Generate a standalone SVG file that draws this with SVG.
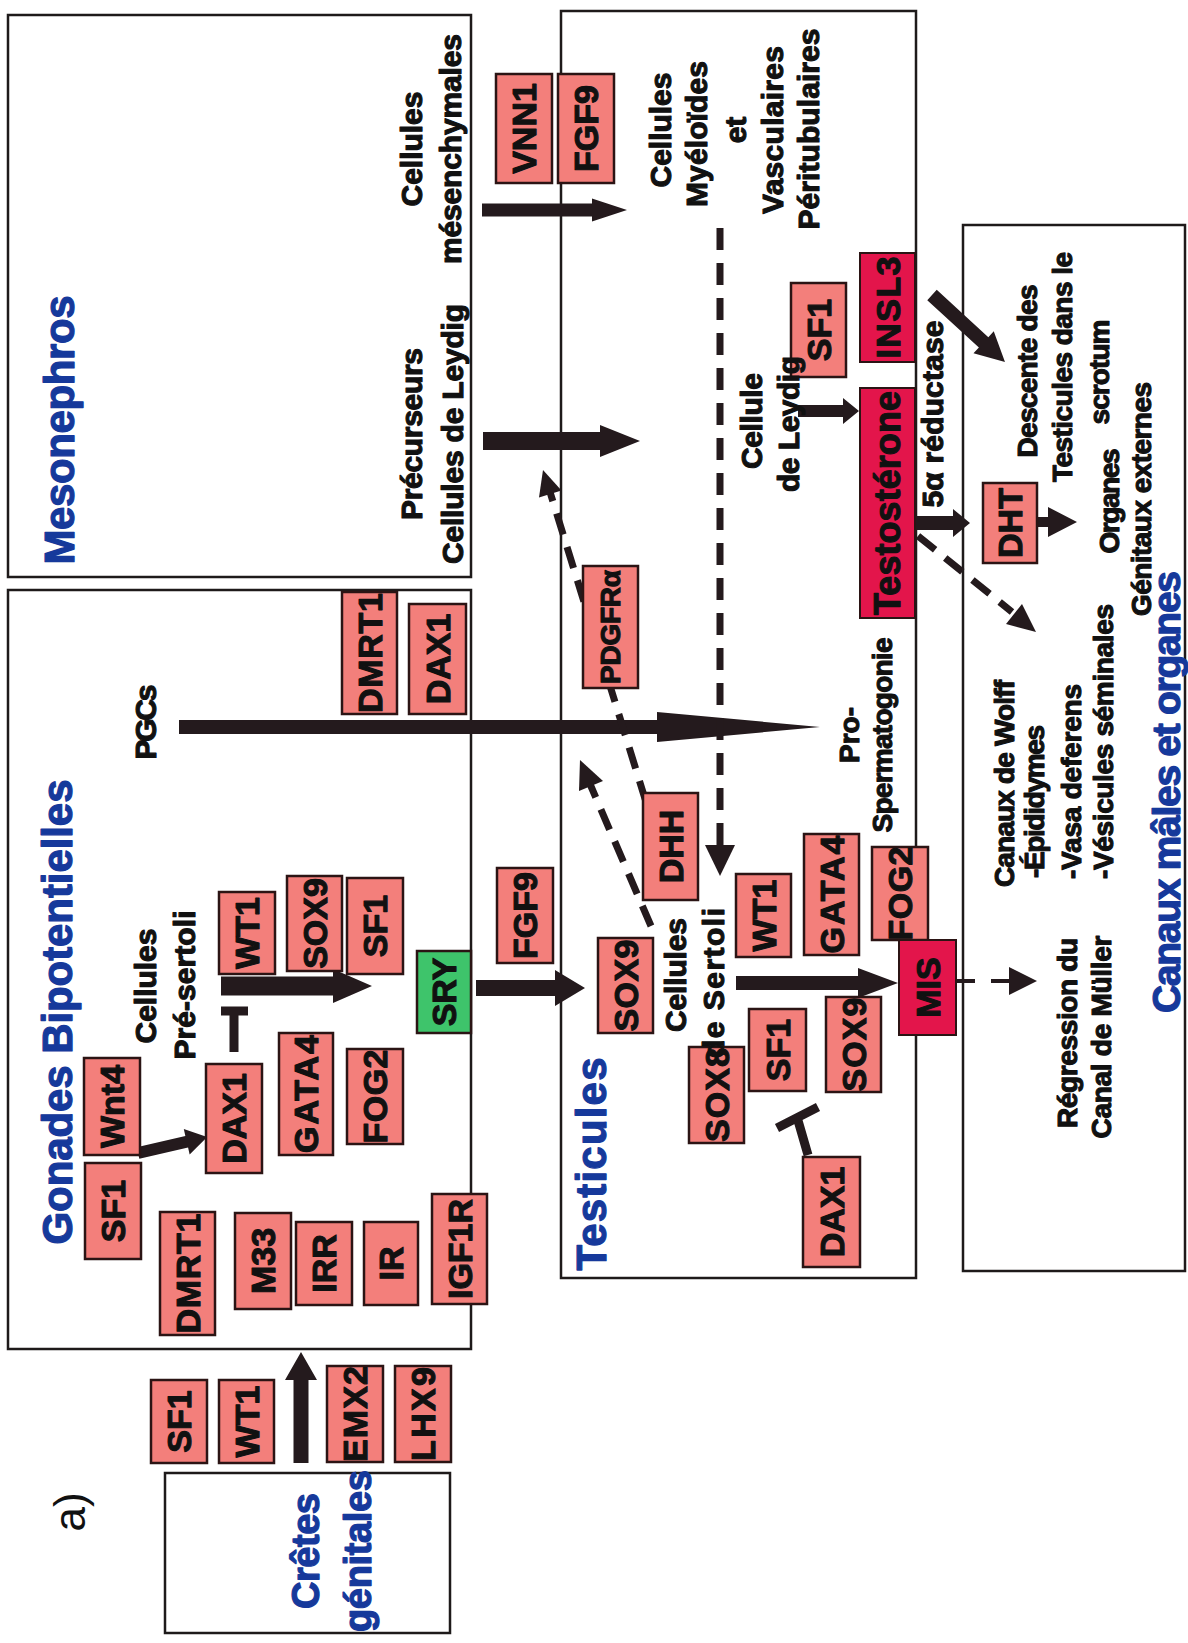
<svg xmlns="http://www.w3.org/2000/svg" width="1188" height="1643" viewBox="0 0 1188 1643">
<style>
.bg{fill:#fff}
.cont{fill:none;stroke:#1e1a1a;stroke-width:2.5}
.gene{fill:#f37f7b;stroke:#2b1414;stroke-width:2.5}
.red{fill:#e3154b;stroke:#2b1414;stroke-width:2}
.green{fill:#3ec46b;stroke:#2b1414;stroke-width:2.5}
.t{font-family:"Liberation Sans",Arial,sans-serif;font-weight:bold;fill:#111;stroke:#111;stroke-width:1.1;stroke-linejoin:round;text-anchor:middle;dominant-baseline:central}
.g{font-size:34px}
.l{font-size:30px}
.r{font-size:28px}
.s{text-anchor:start}
.blue{fill:#16399b;stroke:#16399b;stroke-width:1.2;font-size:42px}
.arr{fill:#241a1d}
.dash{fill:none;stroke:#241a1d;stroke-width:7;stroke-dasharray:22 13}
.bar{fill:none;stroke:#241a1d;stroke-width:9}
.thin{fill:none;stroke:#241a1d;stroke-width:4}
</style>
<rect class="bg" x="0" y="0" width="1188" height="1643"/>

<g id="containers">
  <g id="mesonephros"><rect class="cont" x="8" y="15" width="463" height="562"/>
    <text class="t blue" transform="translate(59,430) rotate(-90)" textLength="269">Mesonephros</text></g>
  <g id="gonades"><rect class="cont" x="8" y="590" width="463" height="759"/>
    <text class="t blue" transform="translate(57,1012) rotate(-90)" textLength="465">Gonades Bipotentielles</text></g>
  <g id="testicules"><rect class="cont" x="561" y="11" width="355" height="1267"/>
    <text class="t blue" transform="translate(591,1164) rotate(-90)" textLength="213">Testicules</text></g>
  <g id="canaux"><rect class="cont" x="963" y="225" width="222" height="1046"/>
    <text class="t blue" style="font-size:39px" transform="translate(1166,792) rotate(-90)" textLength="442">Canaux mâles et organes</text></g>
  <g id="cretes"><rect class="cont" x="165" y="1473" width="285" height="160"/>
    <text class="t blue" style="font-size:38px" transform="translate(306,1551) rotate(-90)" textLength="116">Crêtes</text>
    <text class="t blue" style="font-size:38px" transform="translate(358,1551) rotate(-90)" textLength="162">génitales</text></g>
</g>

<g id="connectors">
  <polygon class="arr" points="482,203.5 592,203.5 592,198.5 627,210 592,221.5 592,216.5 482,216.5"/>
  <polygon class="arr" points="483,432 600,432 600,425 640,441 600,457 600,450 483,450"/>
  <polygon class="arr" points="179,720 657,720 657,712 820,727 657,742 657,734 179,734"/>
  <polygon class="arr" points="221,976.5 333,976.5 333,969 372,986 333,1003 333,995.5 221,995.5"/>
  <polygon class="arr" points="476,980 555,980 555,970 585,988 555,1006 555,996 476,996"/>
  <polygon class="arr" points="736,976 858,976 858,968 898,983 858,998 858,990 736,990"/>
  <polygon class="arr" points="798,405 843,405 843,398 859,411 843,424 843,417 798,417"/>
  <polygon class="arr" points="915,516 953,516 953,509 970,523 953,537 953,530 915,530"/>
  <polygon class="arr" points="1037,517 1048,517 1048,507 1077,522 1048,537 1048,527 1037,527"/>
  <line class="thin" x1="956" y1="981" x2="975" y2="981"/>
  <polygon class="arr" points="991,979 1009,979 1009,967 1037,981 1009,995 1009,983 991,983"/>
  <polygon class="arr" points="293.5,1463 293.5,1380 285,1380 301,1352 317,1380 308.5,1380 308.5,1463"/>
  <polygon class="arr" transform="translate(138,1153) rotate(-13)" points="0,-6 50,-6 50,-13 71,0 50,13 50,6 0,6"/>
  <polygon class="arr" transform="translate(932,295) rotate(42.5)" points="0,-7 70,-7 70,-15 99,0 70,15 70,7 0,7"/>
  <path class="dash" d="M720,228 L720,846"/>
  <polygon class="arr" points="705,845 735,845 720,876"/>
  <path class="dash" d="M646,802 L550,492"/>
  <polygon class="arr" points="543,470 561.5,490.5 539,497.5"/>
  <path class="dash" d="M651,926 L590,784"/>
  <polygon class="arr" points="580,760 603,781 579,791"/>
  <path class="dash" d="M918,536 L1012,612"/>
  <polygon class="arr" points="1036,632 1022,604 1006,624"/>
  <path class="bar" d="M234,1052 L234,1011 M221,1011 L248,1011"/>
  <path class="bar" d="M808,1155 L797,1117 M777,1128 L818,1107"/>
</g>

<g id="genes">
  <g id="VNN1"><rect class="gene" x="496" y="74" width="56" height="109"/><text class="t g" transform="translate(524,128.5) rotate(-90)">VNN1</text></g>
  <g id="FGF9a"><rect class="gene" x="558" y="74" width="56" height="109"/><text class="t g" transform="translate(586,128.5) rotate(-90)">FGF9</text></g>
  <g id="DMRT1a"><rect class="gene" x="342" y="592" width="55" height="122"/><text class="t g" transform="translate(369.5,653) rotate(-90)" textLength="120">DMRT1</text></g>
  <g id="DAX1a"><rect class="gene" x="409" y="604" width="57" height="110"/><text class="t g" transform="translate(437.5,659) rotate(-90)">DAX1</text></g>
  <g id="WT1a"><rect class="gene" x="219" y="892" width="56" height="82"/><text class="t g" transform="translate(247,933) rotate(-90)">WT1</text></g>
  <g id="SOX9a"><rect class="gene" x="287" y="876" width="55" height="95"/><text class="t g" transform="translate(314.5,923.5) rotate(-90)">SOX9</text></g>
  <g id="SF1a"><rect class="gene" x="347" y="878" width="56" height="96"/><text class="t g" transform="translate(375,926) rotate(-90)">SF1</text></g>
  <g id="SRY"><rect class="green" x="417" y="951" width="54" height="82"/><text class="t g" transform="translate(444,992) rotate(-90)">SRY</text></g>
  <g id="Wnt4"><rect class="gene" x="84" y="1058" width="56" height="97"/><text class="t g" transform="translate(112,1106.5) rotate(-90)">Wnt4</text></g>
  <g id="DAX1b"><rect class="gene" x="206" y="1064" width="56" height="109"/><text class="t g" transform="translate(234,1118.5) rotate(-90)">DAX1</text></g>
  <g id="GATA4a"><rect class="gene" x="279" y="1033" width="54" height="122"/><text class="t g" transform="translate(306,1094) rotate(-90)" textLength="118">GATA4</text></g>
  <g id="FOG2a"><rect class="gene" x="347" y="1049" width="56" height="95"/><text class="t g" transform="translate(375,1096.5) rotate(-90)" textLength="94">FOG2</text></g>
  <g id="SF1b"><rect class="gene" x="85" y="1163" width="56" height="96"/><text class="t g" transform="translate(113,1211) rotate(-90)">SF1</text></g>
  <g id="DMRT1b"><rect class="gene" x="160" y="1212" width="55" height="123"/><text class="t g" transform="translate(187.5,1273.5) rotate(-90)" textLength="120">DMRT1</text></g>
  <g id="M33"><rect class="gene" x="235" y="1213" width="56" height="96"/><text class="t g" transform="translate(263,1261) rotate(-90)">M33</text></g>
  <g id="IRR"><rect class="gene" x="296" y="1222" width="56" height="83"/><text class="t g" transform="translate(324,1263.5) rotate(-90)">IRR</text></g>
  <g id="IR"><rect class="gene" x="364" y="1222" width="54" height="83"/><text class="t g" transform="translate(391,1263.5) rotate(-90)">IR</text></g>
  <g id="IGF1R"><rect class="gene" x="432" y="1194" width="55" height="110"/><text class="t g" transform="translate(459.5,1249) rotate(-90)">IGF1R</text></g>
  <g id="SF1c"><rect class="gene" x="151" y="1380" width="56" height="83"/><text class="t g" transform="translate(179,1421.5) rotate(-90)">SF1</text></g>
  <g id="WT1b"><rect class="gene" x="219" y="1380" width="55" height="83"/><text class="t g" transform="translate(246.5,1421.5) rotate(-90)">WT1</text></g>
  <g id="EMX2"><rect class="gene" x="327" y="1366" width="56" height="96"/><text class="t g" transform="translate(355,1414) rotate(-90)" textLength="96">EMX2</text></g>
  <g id="LHX9"><rect class="gene" x="395" y="1366" width="56" height="96"/><text class="t g" transform="translate(423,1414) rotate(-90)" textLength="94">LHX9</text></g>
  <g id="FGF9b"><rect class="gene" x="497" y="868" width="56" height="95"/><text class="t g" transform="translate(525,915.5) rotate(-90)">FGF9</text></g>
  <g id="PDGFRa"><rect class="gene" x="583" y="566" width="55" height="122"/><text class="t g" style="font-size:28px" transform="translate(610.5,627) rotate(-90)" textLength="114">PDGFRα</text></g>
  <g id="DHH"><rect class="gene" x="643" y="793" width="55" height="107"/><text class="t g" transform="translate(670.5,846.5) rotate(-90)">DHH</text></g>
  <g id="SOX9b"><rect class="gene" x="598" y="938" width="55" height="95"/><text class="t g" transform="translate(625.5,985.5) rotate(-90)" textLength="92">SOX9</text></g>
  <g id="SOX8"><rect class="gene" x="689" y="1047" width="55" height="96"/><text class="t g" transform="translate(716.5,1095) rotate(-90)" textLength="94">SOX8</text></g>
  <g id="WT1c"><rect class="gene" x="736" y="874" width="55" height="83"/><text class="t g" transform="translate(763.5,915.5) rotate(-90)">WT1</text></g>
  <g id="SF1d"><rect class="gene" x="749" y="1009" width="57" height="82"/><text class="t g" transform="translate(777.5,1050) rotate(-90)">SF1</text></g>
  <g id="GATA4b"><rect class="gene" x="804" y="834" width="55" height="121"/><text class="t g" transform="translate(831.5,894.5) rotate(-90)" textLength="118">GATA4</text></g>
  <g id="FOG2b"><rect class="gene" x="872" y="847" width="56" height="93"/><text class="t g" transform="translate(900,893.5) rotate(-90)" textLength="94">FOG2</text></g>
  <g id="SOX9c"><rect class="gene" x="826" y="997" width="55" height="95"/><text class="t g" transform="translate(853.5,1044.5) rotate(-90)" textLength="94">SOX9</text></g>
  <g id="MIS"><rect class="red" x="899" y="940" width="57" height="95"/><text class="t g" transform="translate(927.5,987.5) rotate(-90)">MIS</text></g>
  <g id="DAX1c"><rect class="gene" x="803" y="1157" width="57" height="110"/><text class="t g" transform="translate(831.5,1212) rotate(-90)">DAX1</text></g>
  <g id="SF1e"><rect class="gene" x="791" y="283" width="55" height="94"/><text class="t g" transform="translate(818.5,330) rotate(-90)">SF1</text></g>
  <g id="INSL3"><rect class="red" x="860" y="253" width="55" height="109"/><text class="t g" transform="translate(887.5,307.5) rotate(-90)" textLength="102">INSL3</text></g>
  <g id="Testosterone"><rect class="red" x="860" y="388" width="55" height="230"/><text class="t g" style="font-size:36px" transform="translate(887.5,503) rotate(-90)" textLength="224">Testostérone</text></g>
  <g id="DHT"><rect class="gene" x="983" y="483" width="54" height="80"/><text class="t g" transform="translate(1010,523) rotate(-90)">DHT</text></g>
</g>

<g id="labels">
  <text class="t l" transform="translate(411,149) rotate(-90)" textLength="115">Cellules</text>
  <text class="t l" transform="translate(450,149) rotate(-90)" textLength="230">mésenchymales</text>
  <text class="t l" transform="translate(411,434) rotate(-90)" textLength="172">Précurseurs</text>
  <text class="t l" transform="translate(452,434) rotate(-90)" textLength="260">Cellules de Leydig</text>
  <text class="t l" transform="translate(660,130) rotate(-90)" textLength="115">Cellules</text>
  <text class="t l" transform="translate(696,134) rotate(-90)" textLength="146">Myéloïdes</text>
  <text class="t l" transform="translate(735,130) rotate(-90)">et</text>
  <text class="t l" transform="translate(772,130) rotate(-90)" textLength="168">Vasculaires</text>
  <text class="t l" transform="translate(808,129) rotate(-90)" textLength="201">Péritubulaires</text>
  <text class="t l" transform="translate(751,421) rotate(-90)" textLength="96">Cellule</text>
  <text class="t l" transform="translate(788,424) rotate(-90)" textLength="136">de Leydig</text>
  <text class="t l" transform="translate(932,414) rotate(-90)" textLength="187">5α réductase</text>
  <text class="t r" transform="translate(849,735) rotate(-90)">Pro-</text>
  <text class="t r" transform="translate(882,735) rotate(-90)" textLength="195">Spermatogonie</text>
  <text class="t l" transform="translate(675,975) rotate(-90)" textLength="114">Cellules</text>
  <text class="t l" transform="translate(713,983) rotate(-90)" textLength="150">de Sertoli</text>
  <text class="t l" transform="translate(145,722) rotate(-90)" textLength="75">PGCs</text>
  <text class="t l" transform="translate(145,986) rotate(-90)" textLength="115">Cellules</text>
  <text class="t l" transform="translate(184,985) rotate(-90)" textLength="149">Pré-sertoli</text>
  <text class="t r" transform="translate(1027,371) rotate(-90)" textLength="173">Descente des</text>
  <text class="t r" transform="translate(1062,367) rotate(-90)" textLength="230">Testicules dans le</text>
  <text class="t r" transform="translate(1099,372) rotate(-90)" textLength="105">scrotum</text>
  <text class="t r" transform="translate(1109,501) rotate(-90)" textLength="105">Organes</text>
  <text class="t r" transform="translate(1141,499) rotate(-90)" textLength="234">Génitaux externes</text>
  <text class="t r s" transform="translate(1004,887) rotate(-90)" textLength="207">Canaux de Wolff</text>
  <text class="t r s" transform="translate(1034,878) rotate(-90)" textLength="153">-Épididymes</text>
  <text class="t r s" transform="translate(1071,879) rotate(-90)" textLength="195">-Vasa deferens</text>
  <text class="t r s" transform="translate(1103,879) rotate(-90)" textLength="275">-Vésicules séminales</text>
  <text class="t r" transform="translate(1067,1033) rotate(-90)" textLength="190">Régression du</text>
  <text class="t r" transform="translate(1101,1037) rotate(-90)" textLength="203">Canal de Müller</text>
  <text class="t" style="font-weight:normal;stroke-width:0;font-size:44px" transform="translate(69,1512) rotate(-90)">a)</text>
</g>
</svg>
